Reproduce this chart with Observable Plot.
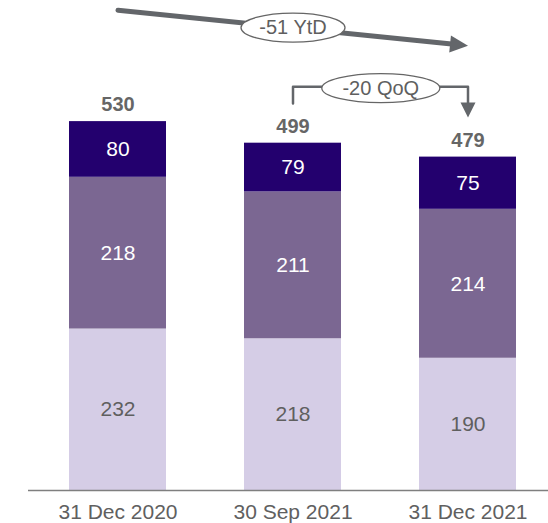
<!DOCTYPE html>
<html>
<head>
<meta charset="utf-8">
<script src="https://cdn.jsdelivr.net/npm/d3@7"></script>
<script src="https://cdn.jsdelivr.net/npm/@observablehq/plot@0.6"></script>
<style>
  html, body { margin: 0; padding: 0; background: #ffffff; }
  svg { display: block; }
</style>
</head>
<body>
<script>
// ---- data ----
const categories = ["31 Dec 2020", "30 Sep 2021", "31 Dec 2021"];
const bottomValues = [232, 218, 190];
const middleValues = [218, 211, 214];
const topValues = [80, 79, 75];
const totals = [530, 499, 479];
const changeLabels = ["-51 YtD", "-20 QoQ"];

// ---- layout / style ----
const W = 548, H = 523;
const marginLeft = 28, marginRight = 0, marginTop = 0, marginBottom = 33;
const yMax = 704;
const paddingInner = 0.443, paddingOuter = 0.202, align = 0.563;
const segFill = ["#d5cde6", "#7b6792", "#23006e"];
const segText = ["#5f5f5f", "#ffffff", "#ffffff"];
const gray = "#63666a";
const font = "'Liberation Sans', Arial, sans-serif";

const step = (W - marginLeft - marginRight) / (categories.length - paddingInner + 2 * paddingOuter);
const pxPerUnit = (H - marginTop - marginBottom) / yMax;

// stacked rows; the top segment reaches the stated total
const rows = categories.flatMap((c, i) => {
  const b = bottomValues[i], m = middleValues[i];
  return [
    {cat: c, s: 0, y1: 0, y2: b, v: bottomValues[i]},
    {cat: c, s: 1, y1: b, y2: b + m, v: middleValues[i]},
    {cat: c, s: 2, y1: b + m, y2: totals[i], v: topValues[i]}
  ];
});

// annotation levels (data units)
const ytdStartY = totals[0] + 160;
const ytdEndY = totals[2] + 160;
const ytdMidY = (ytdStartY + ytdEndY) / 2 + 0.5;
const qoqStartY = totals[1] + 57;
const qoqTopY = 580;
const qoqTipY = totals[2] + 57;
const qoqLabelY = 578;

// symbols
function arrowHead(len, wid) {
  return {draw(ctx) { ctx.moveTo(0, 0); ctx.lineTo(-len, -wid / 2); ctx.lineTo(-len, wid / 2); ctx.closePath(); }};
}
function ellipse(rx, ry) {
  const k = 0.5523;
  return {draw(ctx) {
    ctx.moveTo(rx, 0);
    ctx.bezierCurveTo(rx, k * ry, k * rx, ry, 0, ry);
    ctx.bezierCurveTo(-k * rx, ry, -rx, k * ry, -rx, 0);
    ctx.bezierCurveTo(-rx, -k * ry, -k * rx, -ry, 0, -ry);
    ctx.bezierCurveTo(k * rx, -ry, rx, -k * ry, rx, 0);
    ctx.closePath();
  }};
}

const ytdAngle = Math.atan2((ytdStartY - ytdEndY) * pxPerUnit, 2 * step) * 180 / Math.PI;

const bracket = [
  {x: categories[1], y: qoqStartY},
  {x: categories[1], y: qoqTopY},
  {x: categories[2], y: qoqTopY},
  {x: categories[2], y: qoqTipY + 16}
];

const chart = Plot.plot({
  width: W,
  height: H,
  marginLeft, marginRight, marginTop, marginBottom,
  style: {fontFamily: font, fontSize: "20px", background: "#ffffff"},
  x: {domain: categories, paddingInner, paddingOuter, align, axis: null},
  y: {domain: [0, yMax], axis: null},
  color: {type: "identity"},
  marks: [
    Plot.barY(rows, {x: "cat", y1: "y1", y2: "y2", fill: d => segFill[d.s]}),
    Plot.text(rows, {
      x: "cat", y: d => (d.y1 + d.y2) / 2, text: d => String(d.v),
      fill: d => segText[d.s], fontSize: 21, fontFamily: font
    }),
    Plot.text(categories, {
      x: d => d, y: (d, i) => totals[i], text: (d, i) => String(totals[i]),
      dy: -17, fill: "#666666", fontWeight: "bold", fontSize: 20, fontFamily: font
    }),
    Plot.ruleY([0], {stroke: "#7f7f7f", strokeWidth: 1.5}),
    Plot.text(categories, {
      x: d => d, y: d => 0, text: d => d, dy: 22,
      fill: "#606060", fontSize: 21, fontFamily: font
    }),
    // YtD arrow
    Plot.arrow([0], {
      x1: () => categories[0], y1: () => ytdStartY,
      x2: () => categories[2], y2: () => ytdEndY,
      stroke: gray, strokeWidth: 5, headLength: 0, insetEnd: 14
    }),
    Plot.dot([0], {
      x: () => categories[2], y: () => ytdEndY,
      symbol: arrowHead(18, 17), rotate: ytdAngle, fill: gray, stroke: "none", r: 5
    }),
    Plot.dot([0], {
      x: () => categories[1], y: () => ytdMidY,
      symbol: ellipse(52, 14.5), fill: "#ffffff", stroke: "#666666", strokeWidth: 1.3, r: 5
    }),
    Plot.text([changeLabels[0]], {
      x: () => categories[1], y: () => ytdMidY, text: d => d,
      fill: "#5f5f5f", fontSize: 20, fontFamily: font
    }),
    // QoQ bracket
    Plot.line(bracket, {x: "x", y: "y", stroke: gray, strokeWidth: 2.5}),
    Plot.dot([0], {
      x: () => categories[2], y: () => qoqTipY,
      symbol: arrowHead(15, 15), rotate: 90, fill: gray, stroke: "none", r: 5
    }),
    Plot.dot([0], {
      x: () => categories[1], y: () => qoqLabelY, dx: step / 2,
      symbol: ellipse(59, 14.5), fill: "#ffffff", stroke: "#666666", strokeWidth: 1.3, r: 5
    }),
    Plot.text([changeLabels[1]], {
      x: () => categories[1], y: () => qoqLabelY, dx: step / 2, text: d => d,
      fill: "#5f5f5f", fontSize: 20, fontFamily: font
    })
  ]
});
document.body.appendChild(chart);
</script>
</body>
</html>
